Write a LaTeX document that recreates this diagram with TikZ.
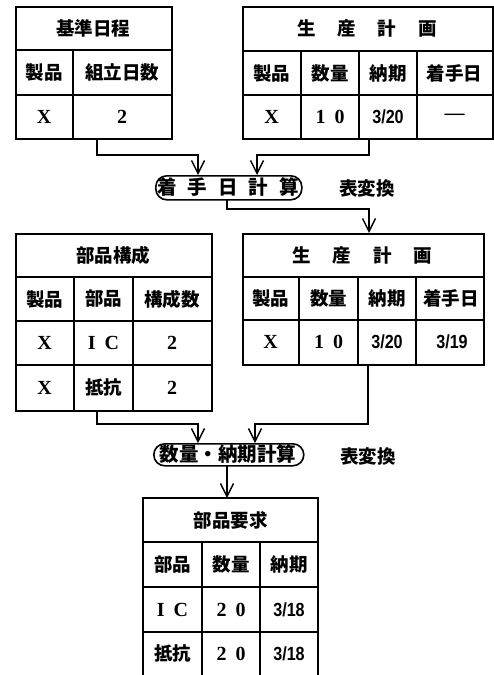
\documentclass[tikz,border=0pt]{standalone}
\usepackage{fontspec}
\setmainfont{Liberation Serif}
\newfontfamily\jp{Noto Sans CJK JP}
\newfontfamily\nar[FakeStretch=0.85]{Liberation Sans}
\usetikzlibrary{arrows.meta}
\begin{document}
\begin{tikzpicture}[x=1pt,y=-1pt,
  frame/.style={draw, line width=1.7pt, inner sep=0pt, anchor=north west},
  grid/.style={line width=1.5pt},
  tx/.style={font=\jp\bfseries\fontsize{18.5}{18.5}\selectfont, inner sep=0pt},
  bx/.style={font=\jp\bfseries\fontsize{19.5}{19.5}\selectfont, inner sep=0pt},
  lat/.style={font=\bfseries\fontsize{20}{20}\selectfont, inner sep=0pt},
  dt/.style={font=\nar\bfseries\fontsize{19}{19}\selectfont, inner sep=0pt},
  conn/.style={line width=1.5pt, -{Straight Barb[length=13pt,width=13pt,line width=1.4pt]}},
  proc/.style={draw, line width=1.6pt, rounded corners=11pt, inner sep=0pt, anchor=north west}]
\useasboundingbox (0,0) rectangle (494,675);

% ---------- Table 1: 基準日程 ----------
\node[frame, minimum width=156pt, minimum height=132pt] (T1) at (15,6) {};
\draw[grid] (15,50) -- (171,50) (15,95) -- (171,95) (73,50) -- (73,138);
\node[tx] (t1h) at (93,28) {基準日程};
\node[tx] (t1a) at (44,72.5) {製品};
\node[tx] (t1b) at (122,72.5) {組立日数};
\node[lat] (t1c) at (44,116.5) {X};
\node[lat] (t1d) at (122,116.5) {2};

% ---------- Table 2: 生産計画 ----------
\node[frame, minimum width=250pt, minimum height=132pt] (T2) at (242,6) {};
\draw[grid] (242,51) -- (492,51) (242,95) -- (492,95)
  (301,51) -- (301,138) (359,51) -- (359,138) (417,51) -- (417,138);
\node[tx] (t2h) at (367,28) {生\hspace{22pt}産\hspace{22pt}計\hspace{22pt}画};
\node[tx] (t2a) at (271.5,73) {製品};
\node[tx] (t2b) at (330,73) {数量};
\node[tx] (t2c) at (388,73) {納期};
\node[tx] (t2d) at (454.5,73) {着手日};
\node[lat] (t2e) at (271.5,116.5) {X};
\node[lat] (t2f) at (330,116.5) {1\hspace{9pt}0};
\node[dt] (t2g) at (388,116.5) {3/20};
\node[lat] (t2i) at (454.5,116.5) {—};

% ---------- Process 1 ----------
\node[proc, minimum width=146pt, minimum height=24pt] (P1) at (155,175) {};
\node[bx] (p1t) at (228,187) {着\hspace{11pt}手\hspace{11pt}日\hspace{11pt}計\hspace{11pt}算};
\node[tx] (p1r) at (367,188) {表変換};

\coordinate (a1) at (97,138);
\coordinate (a1t) at (198,175);
\coordinate (a2) at (369,138);
\coordinate (a2t) at (257,175);
\coordinate (a3) at (227,199);
\coordinate (a3t) at (369,233);
\draw[conn] (a1) -- ++(0,17) -| (a1t);
\draw[conn] (a2) -- ++(0,17) -| (a2t);
\draw[conn] (a3) -- ++(0,10) -| (a3t);

% ---------- Table 3: 部品構成 ----------
\node[frame, minimum width=196pt, minimum height=177pt] (T3) at (15,233) {};
\draw[grid] (15,277) -- (211,277) (15,321) -- (211,321) (15,365) -- (211,365)
  (74,277) -- (74,410) (133,277) -- (133,410);
\node[tx] (t3h) at (113,255) {部品構成};
\node[tx] (t3a) at (44.5,299) {製品};
\node[tx] (t3b) at (103.5,299) {部品};
\node[tx] (t3c) at (172,299) {構成数};
\node[lat] (t3d) at (44.5,343) {X};
\node[lat] (t3e) at (103.5,343) {I\hspace{9pt}C};
\node[lat] (t3f) at (172,343) {2};
\node[lat] (t3g) at (44.5,387.5) {X};
\node[tx] (t3i) at (103.5,387.5) {抵抗};
\node[lat] (t3j) at (172,387.5) {2};

% ---------- Table 4: 生産計画 ----------
\node[frame, minimum width=241pt, minimum height=131pt] (T4) at (242,233) {};
\draw[grid] (242,277) -- (483,277) (242,320) -- (483,320)
  (299,277) -- (299,364) (358,277) -- (358,364) (416,277) -- (416,364);
\node[tx] (t4h) at (362.5,255) {生\hspace{22pt}産\hspace{22pt}計\hspace{22pt}画};
\node[tx] (t4a) at (270.5,298.5) {製品};
\node[tx] (t4b) at (328.5,298.5) {数量};
\node[tx] (t4c) at (387,298.5) {納期};
\node[tx] (t4d) at (451,298.5) {着手日};
\node[lat] (t4e) at (270.5,342) {X};
\node[lat] (t4f) at (328.5,342) {1\hspace{9pt}0};
\node[dt] (t4g) at (387,342) {3/20};
\node[dt] (t4i) at (452,342) {3/19};

% ---------- Process 2 ----------
\node[proc, minimum width=150pt, minimum height=22pt] (P2) at (153,443) {};
\node[bx] (p2t) at (228,454) {数量・納期計算};
\node[tx] (p2r) at (368,456) {表変換};

\coordinate (b1) at (97,410);
\coordinate (b1t) at (198,443);
\coordinate (b2) at (368,364);
\coordinate (b2t) at (255,443);
\coordinate (b3) at (227,465);
\coordinate (b3t) at (227,498);
\draw[conn] (b1) -- ++(0,14) -| (b1t);
\draw[conn] (b2) -- ++(0,60) -| (b2t);
\draw[conn] (b3) -- (b3t);

% ---------- Table 5: 部品要求 (cut off at bottom) ----------
\node[inner sep=0pt, minimum width=175pt, minimum height=178pt, anchor=north west] (T5) at (143,498) {};
\draw[line width=1.7pt] (143,680) -- (143,498) -- (318,498) -- (318,680);
\draw[grid] (143,542) -- (318,542) (143,587) -- (318,587) (143,632) -- (318,632)
  (202,542) -- (202,680) (260,542) -- (260,680);
\node[tx] (t5h) at (230.5,520) {部品要求};
\node[tx] (t5a) at (172.5,564.5) {部品};
\node[tx] (t5b) at (231,564.5) {数量};
\node[tx] (t5c) at (289,564.5) {納期};
\node[lat] (t5d) at (172.5,609.5) {I\hspace{9pt}C};
\node[lat] (t5e) at (231,609.5) {2\hspace{9pt}0};
\node[dt] (t5f) at (289,609.5) {3/18};
\node[tx] (t5g) at (172.5,653.5) {抵抗};
\node[lat] (t5i) at (231,653.5) {2\hspace{9pt}0};
\node[dt] (t5j) at (289,653.5) {3/18};
\end{tikzpicture}
\end{document}
